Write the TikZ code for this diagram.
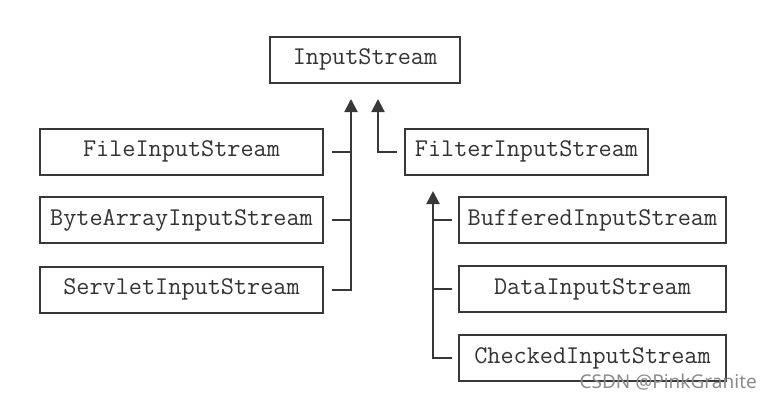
\documentclass[tikz,border=0pt]{standalone}
\usepackage{fontspec}
\newfontfamily\wmfont{Noto Sans}
\usetikzlibrary{arrows.meta}

\tikzset{
    cls/.style={draw=black!78, line width=2pt, text=black!80, inner sep=0pt,
        minimum height=46pt, font=\ttfamily\fontsize{25.5}{28}\selectfont},
    inh/.style={draw=black!78, line width=2pt, -{Triangle[length=13pt,width=13pt]}},
    stub/.style={draw=black!78, line width=2pt}
}

\begin{document}
\begin{tikzpicture}[x=1pt, y=-1pt]
        \useasboundingbox (0,0) rectangle (771,407);

        \def\lx{181.5}
        \def\lw{283}
        \def\rx{592.5}
        \def\rw{267}

        \node[cls, minimum width=190pt] (is) at (365, 59.5) {InputStream};

        \node[cls, minimum width=\lw pt] (fis) at (\lx, 151.5) {FileInputStream};
        \node[cls, minimum width=\lw pt] (bais) at (\lx, 220) {ByteArrayInputStream};
        \node[cls, minimum width=\lw pt] (sis) at (\lx, 289.5) {ServletInputStream};

        \node[cls, minimum width=243pt] (filter) at (526.5, 151.5) {FilterInputStream};

        \node[cls, minimum width=\rw pt] (bis) at (\rx, 220) {BufferedInputStream};
        \node[cls, minimum width=\rw pt] (dis) at (\rx, 289) {DataInputStream};
        \node[cls, minimum width=\rw pt] (cis) at (\rx, 358) {CheckedInputStream};

        \coordinate (tipA) at (351, 99);
        \coordinate (tipB) at (378, 99);
        \coordinate (tipC) at (433, 191);

        \draw[inh] ([xshift=8pt]sis.east) -| (tipA);
        \draw[stub] ([xshift=8pt]fis.east) -- (fis.east -| tipA);
        \draw[stub] ([xshift=8pt]bais.east) -- (bais.east -| tipA);

        \draw[inh] ([xshift=-7pt]filter.west) -| (tipB);

        \draw[inh] ([xshift=-6pt]cis.west) -| (tipC);
        \draw[stub] ([xshift=-6pt]bis.west) -- (bis.west -| tipC);
        \draw[stub] ([xshift=-6pt]dis.west) -- (dis.west -| tipC);

        \node[anchor=east, text=black!45, font=\wmfont\fontsize{19}{22}\selectfont, inner sep=0pt] (wm) at (757, 382) {CSDN @PinkGranite};
    \end{tikzpicture}
\end{document}
